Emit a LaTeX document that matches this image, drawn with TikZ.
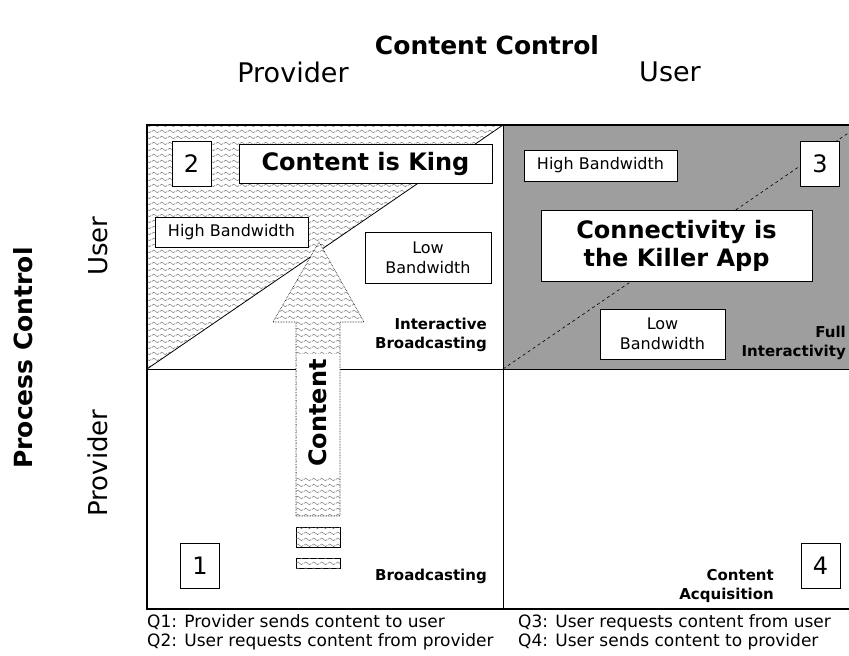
\documentclass[tikz,border=0pt]{standalone}
\usepackage{fontspec}
\setmainfont{DejaVu Sans}
\usetikzlibrary{patterns,positioning}

% wavy hatching used in the provider/user quadrant and in the arrow
\pgfdeclarepatternformonly{waves}{\pgfpoint{0pt}{0pt}}{\pgfpoint{8pt}{6pt}}{\pgfpoint{8pt}{6pt}}{%
  \pgfsetlinewidth{0.5pt}
  \pgfpathmoveto{\pgfpoint{0pt}{3pt}}
  \pgfpathcurveto{\pgfpoint{1.3pt}{5pt}}{\pgfpoint{2.7pt}{5pt}}{\pgfpoint{4pt}{3pt}}
  \pgfpathcurveto{\pgfpoint{5.3pt}{1pt}}{\pgfpoint{6.7pt}{1pt}}{\pgfpoint{8pt}{3pt}}
  \pgfusepath{stroke}}

\tikzset{
  numbox/.style={draw, line width=1pt, fill=white, minimum width=39pt, minimum height=45pt,
    inner sep=0pt, font=\fontsize{24}{24}\selectfont},
  bwbox/.style={draw, line width=0.8pt, fill=white, inner sep=0pt, align=center,
    font=\fontsize{16}{20}\selectfont},
  headbox/.style={draw, line width=1pt, fill=white, inner sep=0pt, align=center,
    font=\bfseries\fontsize{24}{28}\selectfont},
  cornerlbl/.style={anchor=east, align=right, inner sep=0pt,
    font=\bfseries\fontsize{15}{19}\selectfont},
  axislbl/.style={font=\fontsize{27}{27}\selectfont},
  axistitle/.style={font=\bfseries\fontsize{25}{25}\selectfont},
  keytext/.style={anchor=west, align=left, inner sep=0pt, font=\fontsize{17}{19}\selectfont},
  wavefill/.style={fill=white, postaction={pattern=waves, pattern color=black!55}},
}

\begin{document}
\begin{tikzpicture}[x=1pt, y=-1pt]
\clip (0,0) rectangle (849,656);

% corners of the grid
\coordinate (nw) at (147,125);
\coordinate (nm) at (503,125);
\coordinate (ne) at (860,125);
\coordinate (wm) at (147,369);
\coordinate (cc) at (503,369);
\coordinate (em) at (860,369);
\coordinate (sw) at (147,609);
\coordinate (sm) at (503,609);
\coordinate (se) at (860,609);

% quadrant fills
\fill[wavefill] (wm) -- (nw) -- (nm) -- cycle;
\fill[black!38] (nm) rectangle (em);
\draw[line width=0.8pt] (wm) -- (nm);
\draw[line width=0.6pt, dashed] (cc) -- (ne);

% grid
\draw[line width=0.8pt] (nm) -- (sm);
\draw[line width=0.8pt] (wm) -- (em);
\draw[line width=1.6pt] (nw) rectangle (se);

% axis titles
\node[axistitle] (cctitle) at (487,45) {Content Control};
\node[axislbl] (cprov) at (293,72) {Provider};
\node[axislbl] (cuser) at (670,72) {User};
\node[axistitle, rotate=90] (pctitle) at (23,358) {Process Control};
\node[axislbl, rotate=90, font=\fontsize{26}{26}\selectfont] (puser) at (98,246) {User};
\node[axislbl, rotate=90, font=\fontsize{26}{26}\selectfont] (pprov) at (98,463) {Provider};

% quadrant numbers
\node[numbox] (q2) at (191.5,164) {2};
\node[numbox] (q3) at (820,164) {3};
\node[numbox] (q1) at (200,565.5) {1};
\node[numbox] (q4) at (820.5,565.5) {4};

% quadrant 2
\node[headbox, minimum width=253pt, minimum height=39pt] (king) at (365.5,163.5) {Content is King};
\node[bwbox, minimum width=153pt, minimum height=30pt] (hb2) at (231.5,232) {High Bandwidth};
\node[bwbox, minimum width=126pt, minimum height=51pt] (lb2) at (428,257.5) {Low\\Bandwidth};
\node[cornerlbl] (ib) at (487,335) {Interactive\\Broadcasting};

% quadrant 3
\node[bwbox, minimum width=153pt, minimum height=31pt] (hb3) at (600.5,165.5) {High Bandwidth};
\node[headbox, minimum width=271pt, minimum height=71pt] (killer) at (676.5,245.5) {Connectivity is\\the Killer App};
\node[bwbox, minimum width=125pt, minimum height=50pt] (lb3) at (662.5,334) {Low\\Bandwidth};
\node[cornerlbl] (fi) at (846,343) {Full\\Interactivity};

% quadrants 1 and 4
\node[cornerlbl] (bc) at (487,576) {Broadcasting};
\node[cornerlbl] (ca) at (774,586) {Content\\Acquisition};

% content arrow
\fill[wavefill] (296,516) -- (296,322) -- (273,322) -- (319,242) -- (364,322)
  -- (340,322) -- (340,516) -- cycle;
\fill[white] (296.5,354) rectangle (339.5,478);
\draw[line width=0.6pt, densely dotted] (296,516) -- (296,322) -- (273,322) -- (319,242)
  -- (364,322) -- (340,322) -- (340,516) -- cycle;
\node[rotate=90, font=\bfseries\fontsize{24}{24}\selectfont] (content) at (318,413) {Content};
\draw[wavefill, line width=0.6pt] (296,527) rectangle (340,547);
\draw[wavefill, line width=0.6pt] (296,558) rectangle (340,568);

% key
\node[keytext] (key12) at (147,632) {Q1: Provider sends content to user\\Q2: User requests content from provider};
\node[keytext] (key34) at (518,632) {Q3: User requests content from user\\Q4: User sends content to provider};
\end{tikzpicture}
\end{document}
